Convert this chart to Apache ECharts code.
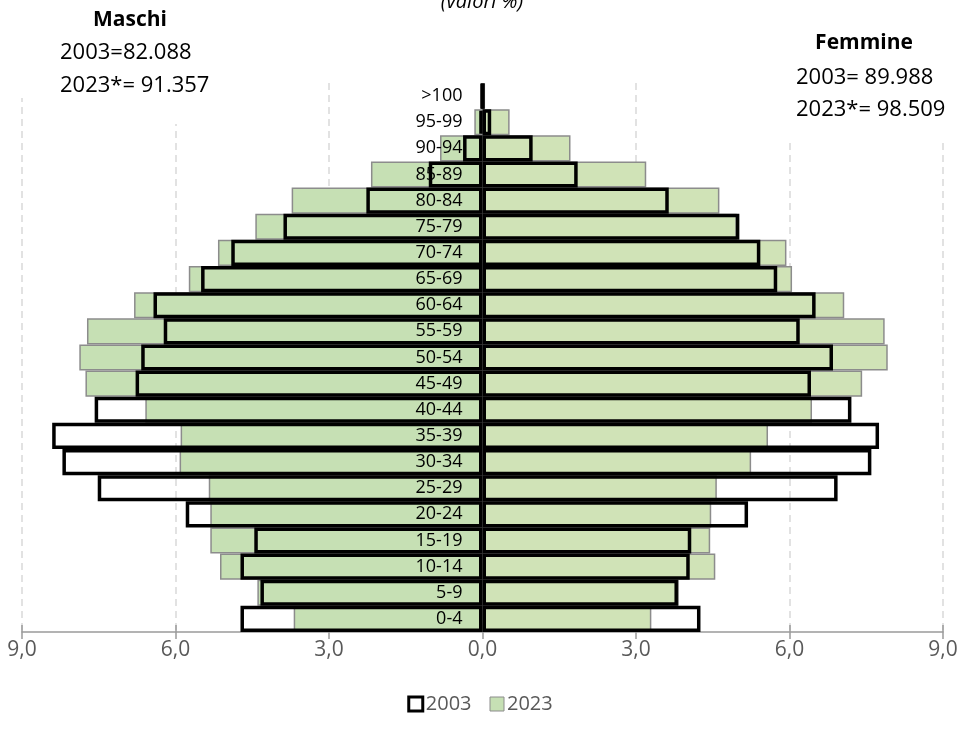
<!DOCTYPE html>
<html>
<head>
<meta charset="utf-8">
<script src="https://cdn.jsdelivr.net/npm/echarts@6/dist/echarts.min.js"></script>
<style>html,body{margin:0;padding:0;background:#fff}#c{width:960px;height:738px}</style>
</head>
<body>
<div id="c"></div>
<script>
// Age classes, bottom to top
var categories = ['0-4','5-9','10-14','15-19','20-24','25-29','30-34','35-39','40-44','45-49','50-54','55-59','60-64','65-69','70-74','75-79','80-84','85-89','90-94','95-99','>100'];
// Maschi (valori %)
var male2003 = [4.73,4.34,4.73,4.46,5.80,7.52,8.21,8.41,7.58,6.78,6.67,6.23,6.43,5.50,4.91,3.89,2.27,1.05,0.38,0.06,0.02];
var male2023 = [3.69,4.40,5.13,5.32,5.32,5.35,5.92,5.90,6.59,7.76,7.88,7.73,6.81,5.74,5.17,4.44,3.73,2.18,0.83,0.16,0.03];
// Femmine (valori %)
var female2003 = [4.26,3.82,4.05,4.08,5.19,6.94,7.60,7.75,7.21,6.42,6.85,6.20,6.51,5.76,5.43,5.02,3.64,1.86,0.98,0.17,0.02];
var female2023 = [3.30,3.84,4.55,4.45,4.47,4.58,5.25,5.58,6.44,7.42,7.92,7.86,7.07,6.05,5.94,4.97,4.63,3.20,1.72,0.53,0.05];
var ticks = [-9,-6,-3,0,3,6,9];

var FONT = 'Open Sans';
var chart = echarts.init(document.getElementById('c'), null, {renderer:'canvas'});
function neg(a){ return a.map(function(v){ return -v; }); }
function fmt(v){ return Math.abs(v).toFixed(1).replace('.', ','); }

var GRID_L = 22, GRID_R = 17;
var plotW = 960 - GRID_L - GRID_R;
var zeroOffset = plotW * (0 - ticks[0]) / (ticks[ticks.length-1] - ticks[0]);

var barCommon = { barGap:'-100%', barCategoryGap:'0%', animation:false };
var option = {
  backgroundColor:'#fff',
  animation:false,
  grid:{ left:GRID_L, right:GRID_R, top:83, bottom:106, containLabel:false, outerBoundsMode:'none' },
  legend:{
    bottom:19, left:'center', itemWidth:14, itemHeight:14, itemGap:18, icon:'rect',
    textStyle:{ fontFamily:FONT, fontSize:20, color:'#595959', padding:[0,0,0,-2] },
    data:[
      { name:'2003', itemStyle:{ color:'#ffffff', borderColor:'#000', borderWidth:3 } },
      { name:'2023', itemStyle:{ color:'#C6E0B4', borderColor:'#8C8C8C', borderWidth:1 } }
    ]
  },
  xAxis:[{
    type:'value', min:ticks[0], max:ticks[ticks.length-1], interval:3,
    axisLine:{ show:true, onZero:false, lineStyle:{ color:'#9A9A9A', width:1.5 } },
    axisTick:{ show:true, length:7, lineStyle:{ color:'#9A9A9A', width:1.5 } },
    axisLabel:{ formatter:fmt, fontFamily:FONT, fontSize:21, color:'#595959', margin:8 },
    splitLine:{ show:true, lineStyle:{ color:'#D9D9D9', type:[7,5], width:1.5 } }
  },{
    type:'value', position:'bottom', min:ticks[0], max:ticks[ticks.length-1], interval:3,
    axisLine:{ show:false }, axisLabel:{ show:false }, splitLine:{ show:false },
    axisTick:{ show:true, inside:true, length:7, lineStyle:{ color:'#9A9A9A', width:1.5 } }
  }],
  yAxis:{
    type:'category', data:categories, z:10, position:'left', offset:-zeroOffset,
    axisLine:{ show:false }, axisTick:{ show:false },
    axisLabel:{ fontFamily:FONT, fontSize:18, color:'#000', margin:20 }
  },
  series:[
    Object.assign({ name:'2023', type:'bar', data:neg(male2023), z:2,
      itemStyle:{ color:'#C6E0B4', borderColor:'#8C8C8C', borderWidth:1.5 } }, barCommon),
    Object.assign({ name:'2023', type:'bar', data:female2023, z:2,
      itemStyle:{ color:'#D0E3B7', borderColor:'#8C8C8C', borderWidth:1.5 } }, barCommon),
    Object.assign({ name:'2003', type:'bar', data:neg(male2003), z:3,
      itemStyle:{ color:'rgba(0,0,0,0)', borderColor:'#000', borderWidth:3.5 } }, barCommon),
    Object.assign({ name:'2003', type:'bar', data:female2003, z:3,
      itemStyle:{ color:'rgba(0,0,0,0)', borderColor:'#000', borderWidth:3.5 } }, barCommon)
  ],
  graphic:[
    { type:'rect', z:100, shape:{ x:10, y:0, width:40, height:98 }, style:{ fill:'#fff' } },
    { type:'rect', z:100, shape:{ x:40, y:0, width:200, height:124 }, style:{ fill:'#fff' } },
    { type:'rect', z:100, shape:{ x:780, y:0, width:180, height:142 }, style:{ fill:'#fff' } },
    { type:'text', z:101, x:482, y:12, style:{ text:'(valori %)', fontFamily:FONT, fontStyle:'italic', fontSize:20, fill:'#000', align:'center', verticalAlign:'bottom' } },
    { type:'text', z:101, x:130, y:20, style:{ text:'Maschi', fontFamily:FONT, fontWeight:'bold', fontSize:21, fill:'#000', align:'center', verticalAlign:'middle' } },
    { type:'text', z:101, x:60, y:53, style:{ text:'2003=82.088', fontFamily:FONT, fontSize:22, fill:'#000', align:'left', verticalAlign:'middle' } },
    { type:'text', z:101, x:60, y:86, style:{ text:'2023*= 91.357', fontFamily:FONT, fontSize:22, fill:'#000', align:'left', verticalAlign:'middle' } },
    { type:'text', z:101, x:864, y:43, style:{ text:'Femmine', fontFamily:FONT, fontWeight:'bold', fontSize:21, fill:'#000', align:'center', verticalAlign:'middle' } },
    { type:'text', z:101, x:796, y:78, style:{ text:'2003= 89.988', fontFamily:FONT, fontSize:22, fill:'#000', align:'left', verticalAlign:'middle' } },
    { type:'text', z:101, x:796, y:110, style:{ text:'2023*= 98.509', fontFamily:FONT, fontSize:22, fill:'#000', align:'left', verticalAlign:'middle' } }
  ]
};
chart.setOption(option);
</script>
</body>
</html>
